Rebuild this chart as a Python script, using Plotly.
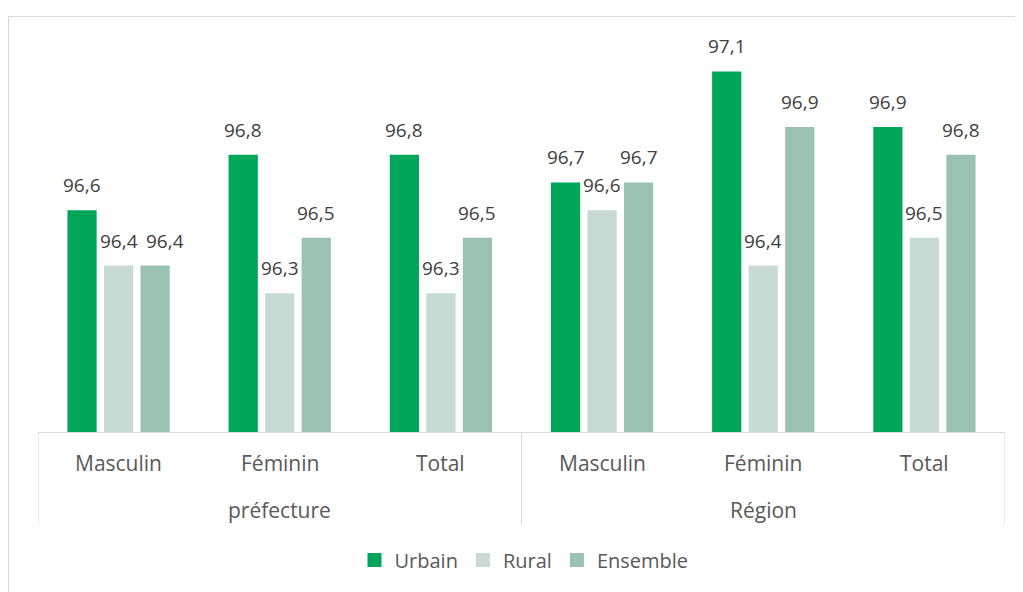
import plotly.graph_objects as go

groups = ["préfecture", "Région"]
subcats = ["Masculin", "Féminin", "Total"]
series_names = ["Urbain", "Rural", "Ensemble"]
urbain = [96.6, 96.8, 96.8, 96.7, 97.1, 96.9]
rural = [96.4, 96.3, 96.3, 96.6, 96.4, 96.5]
ensemble = [96.4, 96.5, 96.5, 96.7, 96.9, 96.8]
colors = ["#00A65A", "#C7DAD4", "#9BC2B1"]

values = [urbain, rural, ensemble]
n = len(urbain)
xpos = list(range(n))
cat_labels = subcats * len(groups)

# page is rendered with an 8px body margin; work in page pixels
OFF = 8
W, H = 1023 - OFF, 592 - OFF
plot_left, plot_right, plot_top, plot_bottom = 38, 1005, 16, 432
L = plot_left - OFF
R = (W + OFF) - plot_right
T = plot_top - OFF
B = (H + OFF) - plot_bottom
pw, ph = plot_right - plot_left, plot_bottom - plot_top

def py(px):  # page pixel y -> paper y
    return (plot_bottom - px) / ph

def pxp(px):  # page pixel x -> paper x
    return (px - plot_left) / pw

bargap = 0.32
fig = go.Figure()
for name, vals, col in zip(series_names, values, colors):
    fig.add_trace(go.Bar(x=xpos, y=vals, name=name, marker=dict(color=col, line=dict(width=0)),
                         hoverinfo="skip", showlegend=False))
# legend entries with larger square swatches
for name, col in zip(series_names, colors):
    fig.add_trace(go.Scatter(x=[None], y=[None], mode="markers", name=name,
                             marker=dict(symbol="square", size=14, color=col, line=dict(width=0)),
                             hoverinfo="skip"))

ann = []
slot = (1 - bargap) / 3
nudge = {(2, 0): 10}  # label moved aside to avoid overlapping its neighbour
for k, vals in enumerate(values):
    for i, v in enumerate(vals):
        ann.append(dict(x=i + (k - 1) * slot, y=v, xref="x", yref="y", text=f"{v:.1f}".replace(".", ","),
                        showarrow=False, yanchor="bottom", yshift=10, xshift=nudge.get((k, i), 0),
                        font=dict(family="Open Sans", size=19, color="#404040")))
for i, lab in enumerate(cat_labels):
    ann.append(dict(x=i, y=py(463), xref="x", yref="paper", text=lab, showarrow=False,
                    yanchor="middle", font=dict(family="Open Sans", size=21, color="#595959")))
for g, lab in enumerate(groups):
    ann.append(dict(x=g * 3 + 1, y=py(510), xref="x", yref="paper", text=lab, showarrow=False,
                    yanchor="middle", font=dict(family="Open Sans", size=21, color="#595959")))

shapes = []
for xv in [-0.5, 2.5, 5.5]:
    shapes.append(dict(type="line", xref="x", yref="paper", x0=xv, x1=xv, y0=0, y1=py(525),
                       line=dict(color="#D9D9D9", width=1)))
# outer chart border
shapes.append(dict(type="line", xref="paper", yref="paper", x0=pxp(8.5), x1=pxp(1023), y0=py(16.5), y1=py(16.5),
                   line=dict(color="#D9D9D9", width=1.2)))
shapes.append(dict(type="line", xref="paper", yref="paper", x0=pxp(8.5), x1=pxp(8.5), y0=py(16.5), y1=py(592),
                   line=dict(color="#D9D9D9", width=1.2)))

fig.update_layout(
    width=W, height=H,
    margin=dict(l=L, r=R, t=T, b=B, autoexpand=False),
    paper_bgcolor="white", plot_bgcolor="white",
    barmode="group", bargap=bargap, bargroupgap=0.2,
    xaxis=dict(range=[-0.5, 5.5], showticklabels=False, showgrid=False, zeroline=False,
               showline=True, linecolor="#D9D9D9", linewidth=1, ticks=""),
    yaxis=dict(range=[95.8, 97.3], visible=False),
    showlegend=True,
    legend=dict(orientation="h", x=pxp(524), xanchor="center", y=py(560), yanchor="middle",
                font=dict(family="Open Sans", size=20, color="#595959"), itemsizing="trace",
                traceorder="normal", itemwidth=30),
    annotations=ann, shapes=shapes,
    font=dict(family="Open Sans"),
)

fig.write_html("out.html")
